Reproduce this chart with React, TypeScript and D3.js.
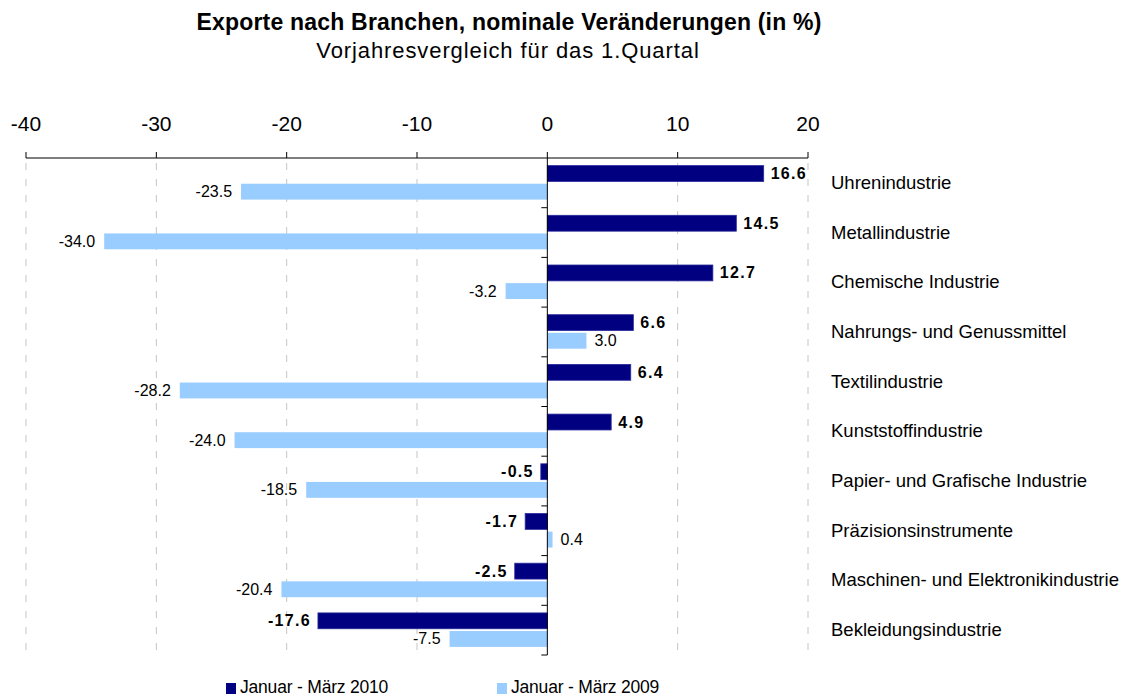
import React from "react";
import * as d3 from "d3";

const categories = [
  "Uhrenindustrie",
  "Metallindustrie",
  "Chemische Industrie",
  "Nahrungs- und Genussmittel",
  "Textilindustrie",
  "Kunststoffindustrie",
  "Papier- und Grafische Industrie",
  "Präzisionsinstrumente",
  "Maschinen- und Elektronikindustrie",
  "Bekleidungsindustrie",
];
const values2010 = [16.6, 14.5, 12.7, 6.6, 6.4, 4.9, -0.5, -1.7, -2.5, -17.6];
const values2009 = [-23.5, -34.0, -3.2, 3.0, -28.2, -24.0, -18.5, 0.4, -20.4, -7.5];
const seriesNames = ["Januar - März 2010", "Januar - März 2009"];
const tickValues = [-40, -30, -20, -10, 0, 10, 20];

const W = 1127;
const H = 697;
const FONT = "'Liberation Sans', Arial, sans-serif";
const DARK = "#000080";
const LIGHT = "#99CCFF";

const fmt = (v: number) => v.toFixed(1);

export default function App() {
  const x = d3.scaleLinear().domain([-40, 20]).range([26, 808]);
  const y = d3.scaleBand<string>().domain(categories).range([158, 655]).paddingInner(0).paddingOuter(0);
  const bw = y.bandwidth();
  const sub = d3
    .scaleBand<string>()
    .domain(seriesNames)
    .range([bw * 0.153, bw * 0.837])
    .paddingInner(0.125);
  const x0 = x(0);
  const yTop = 158;
  const yBot = 655;

  return (
    <svg width={W} height={H} style={{ display: "block", position: "absolute", left: 0, top: 0 }} fontFamily={FONT}>
      <rect width={W} height={H} fill="#fff" />
      {/* title */}
      <text x={509} y={30} textAnchor="middle" fontWeight="bold" fontSize={23} letterSpacing={0.2}>
        Exporte nach Branchen, nominale Veränderungen (in %)
      </text>
      <text x={508} y={58} textAnchor="middle" fontSize={22} letterSpacing={0.9}>
        Vorjahresvergleich für das 1.Quartal
      </text>

      {/* gridlines */}
      {tickValues
        .filter((t) => t !== 0)
        .map((t) => (
          <line
            key={"g" + t}
            x1={x(t)}
            x2={x(t)}
            y1={yTop + 5}
            y2={yBot}
            stroke="#c4c4c4"
            strokeWidth={1}
            strokeDasharray="7,9"
          />
        ))}

      {/* top axis */}
      <line x1={x(-40)} x2={x(20)} y1={yTop} y2={yTop} stroke="#000" strokeWidth={1} />
      {tickValues.map((t) => (
        <g key={"t" + t}>
          <line x1={x(t)} x2={x(t)} y1={yTop - 6} y2={yTop} stroke="#000" />
          <text x={x(t)} y={131} textAnchor="middle" fontSize={21}>
            {t}
          </text>
        </g>
      ))}

      {/* bars */}
      {categories.map((c, i) => {
        const by = y(c)!;
        const v1 = values2010[i];
        const v2 = values2009[i];
        const y1 = by + sub(seriesNames[0])!;
        const y2 = by + sub(seriesNames[1])!;
        const h = sub.bandwidth();
        return (
          <g key={c}>
            <rect
              x={Math.min(x(v1), x0)}
              y={y1}
              width={Math.abs(x(v1) - x0)}
              height={h}
              fill={DARK}
              stroke="#2a2a9a"
              strokeWidth={0.8}
            />
            <rect x={Math.min(x(v2), x0)} y={y2} width={Math.abs(x(v2) - x0)} height={h} fill={LIGHT} />
            <text
              x={v1 >= 0 ? x(v1) + 7 : x(v1) - 7}
              y={y1 + h / 2 + 5.5}
              textAnchor={v1 >= 0 ? "start" : "end"}
              fontWeight="bold"
              fontSize={16}
              letterSpacing={1.3}
            >
              {fmt(v1)}
            </text>
            <text
              x={v2 >= 0 ? x(v2) + 8 : x(v2) - 9}
              y={y2 + h / 2 + 5.5}
              textAnchor={v2 >= 0 ? "start" : "end"}
              fontSize={16}
            >
              {fmt(v2)}
            </text>
            <text x={831} y={by + bw / 2 + 6} fontSize={18.5}>
              {c}
            </text>
          </g>
        );
      })}

      {/* zero axis */}
      <line x1={x0} x2={x0} y1={yTop} y2={yBot} stroke="#000" strokeWidth={1} />
      {categories.map((c) => (
        <line key={"s" + c} x1={x0 - 6} x2={x0} y1={y(c)! + bw} y2={y(c)! + bw} stroke="#000" />
      ))}

      {/* legend */}
      {seriesNames.map((s, i) => {
        const lx = i === 0 ? 226 : 497;
        return (
          <g key={s}>
            <rect x={lx} y={683} width={10} height={11} fill={i === 0 ? DARK : LIGHT} />
            <text x={lx + 14} y={693} fontSize={17.5} letterSpacing={-0.2}>
              {s}
            </text>
          </g>
        );
      })}
    </svg>
  );
}
